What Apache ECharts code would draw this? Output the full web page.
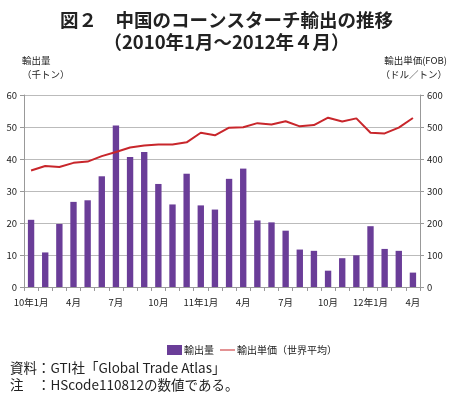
<!DOCTYPE html>
<html>
<head>
<meta charset="utf-8">
<style>
  html, body { margin: 0; padding: 0; background: #fff; }
  #main { width: 453px; height: 397px; }
</style>
</head>
<body>
<div id="main"></div>
<script src="https://cdn.jsdelivr.net/npm/echarts@6/dist/echarts.min.js"></script>
<script>
  // 月（10年1月～12年4月）
  var months = ['10年1月','2月','3月','4月','5月','6月','7月','8月','9月','10月','11月','12月',
                '11年1月','2月','3月','4月','5月','6月','7月','8月','9月','10月','11月','12月',
                '12年1月','2月','3月','4月'];
  // 輸出量（千トン）
  var volume = [21.0, 10.8, 19.7, 26.6, 27.1, 34.6, 50.5, 40.6, 42.2, 32.2, 25.8, 35.4,
                25.5, 24.2, 33.8, 37.0, 20.8, 20.2, 17.6, 11.7, 11.3, 5.1, 9.0, 9.9,
                19.0, 11.9, 11.3, 4.5];
  // 輸出単価（ドル／トン）
  var price = [364, 378, 375, 388, 392, 409, 422, 436, 442, 445, 445, 452,
               482, 474, 498, 499, 512, 508, 518, 502, 506, 529, 517, 527,
               482, 480, 498, 528];
  var leftTicks = [0, 10, 20, 30, 40, 50, 60];
  var rightTicks = [0, 100, 200, 300, 400, 500, 600];

  var font = '"Noto Sans CJK JP", "Noto Sans", sans-serif';
  // 凡例の線（細い横線）
  var lineIcon = 'path://M0,0L0.01,0L0.01,0.01Z M0,4.2L20,4.2L20,5.8L0,5.8Z M0,10L0.01,10L0.01,9.99Z';

  var chart = echarts.init(document.getElementById('main'));
  chart.setOption({
    animation: false,
    textStyle: { fontFamily: font },
    title: [
      { text: '図２　中国のコーンスターチ輸出の推移\n（2010年1月～2012年４月）', left: 'center', top: 4,
        textStyle: { fontSize: 18.5, fontWeight: 'bold', color: '#222', lineHeight: 22, fontFamily: font } },
      { text: '資料：GTI社「Global Trade Atlas」\n注　：HScode110812の数値である。', left: 5, top: 355,
        textStyle: { fontSize: 13.5, fontWeight: 'normal', color: '#222', lineHeight: 16.5, fontFamily: font } }
    ],
    legend: {
      top: 340, left: 162,
      itemWidth: 15, itemHeight: 10, itemGap: 6,
      textStyle: { fontSize: 10, color: '#222', padding: [0, 0, 0, -3] },
      data: [{ name: '輸出量', icon: 'rect' }, { name: '輸出単価（世界平均）', icon: lineIcon }]
    },
    grid: { left: 24, right: 33, top: 95, bottom: 110 },
    xAxis: {
      type: 'category',
      data: months,
      axisLine: { lineStyle: { color: '#999' } },
      axisTick: { show: true, interval: 0, length: 4, lineStyle: { color: '#999' } },
      axisLabel: { interval: 2, fontSize: 9.5, color: '#222', margin: 11 }
    },
    yAxis: [
      {
        type: 'value', min: leftTicks[0], max: leftTicks[leftTicks.length - 1], interval: 10,
        name: '輸出量\n（千トン）', nameLocation: 'end', nameGap: 14,
        nameTextStyle: { fontSize: 9.5, color: '#222', align: 'left', padding: [0, 0, 0, -2], lineHeight: 14 },
        axisLine: { show: true, lineStyle: { color: '#999' } },
        axisTick: { show: true, length: 4, lineStyle: { color: '#999' } },
        axisLabel: { fontSize: 9.5, color: '#222', margin: 7 },
        splitLine: { lineStyle: { color: '#bbb', width: 1.2 } }
      },
      {
        type: 'value', min: rightTicks[0], max: rightTicks[rightTicks.length - 1], interval: 100,
        name: '輸出単価(FOB)\n（ドル／トン）', nameLocation: 'end', nameGap: 14,
        nameTextStyle: { fontSize: 9.5, color: '#222', align: 'right', padding: [0, -27, 0, 0], lineHeight: 14 },
        axisLine: { show: true, lineStyle: { color: '#999' } },
        axisTick: { show: true, length: 4, lineStyle: { color: '#999' } },
        axisLabel: { fontSize: 9.5, color: '#222', margin: 7 },
        splitLine: { show: false }
      }
    ],
    series: [
      {
        name: '輸出量', type: 'bar', yAxisIndex: 0, data: volume,
        barWidth: '45%', itemStyle: { color: '#6a3d98' }
      },
      {
        name: '輸出単価（世界平均）', type: 'line', yAxisIndex: 1, data: price,
        symbol: 'none', lineStyle: { color: '#c8262b', width: 2 }, itemStyle: { color: '#c8262b' }
      }
    ]
  });
</script>
</body>
</html>
